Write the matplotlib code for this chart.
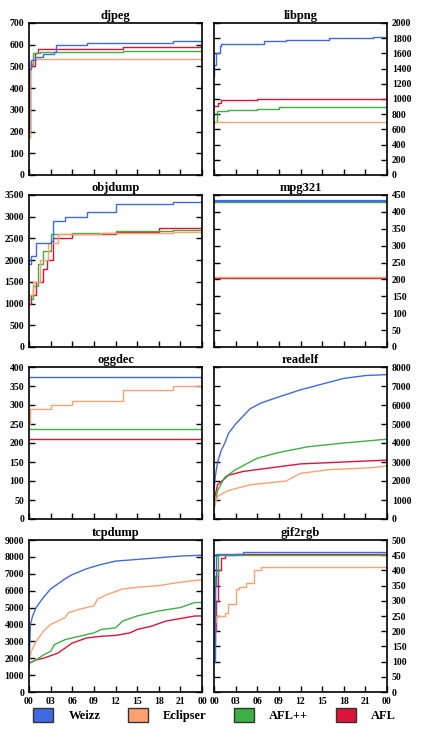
import matplotlib
matplotlib.use("Agg")
import matplotlib.pyplot as plt
from matplotlib.patches import Patch

plt.rcParams['font.family'] = ['Liberation Serif', 'DejaVu Serif']
plt.rcParams['font.weight'] = 'bold'

fuzzers = ["Weizz", "Eclipser", "AFL++", "AFL"]
colors = {"Weizz": "#4169E1", "Eclipser": "#FFA070", "AFL++": "#3CB043", "AFL": "#DC143C"}

titles = ["djpeg", "libpng", "objdump", "mpg321", "oggdec", "readelf", "tcpdump", "gif2rgb"]
ylims = [(0, 700, 100), (0, 2000, 200), (0, 3500, 500), (0, 450, 50),
         (0, 400, 50), (0, 8000, 1000), (0, 9000, 1000), (0, 500, 50)]

# (times in hours, values)
data = {
 "djpeg": {
  "Weizz": ([0, 0.05, 0.3, 0.8, 2, 3.5, 3.8, 8, 20, 24], [200, 490, 530, 545, 555, 565, 600, 610, 615, 615]),
  "Eclipser": ([0, 0.1, 0.5, 1, 24], [170, 520, 530, 535, 535]),
  "AFL++": ([0, 0.1, 0.6, 1.5, 13, 24], [180, 510, 560, 568, 570, 570]),
  "AFL": ([0, 0.1, 0.8, 1.3, 13, 24], [200, 500, 560, 580, 588, 588]),
 },
 "libpng": {
  "Weizz": ([0, 0.05, 0.3, 0.8, 1, 6, 7, 10, 16, 22, 24], [1300, 1450, 1600, 1700, 1720, 1730, 1760, 1780, 1800, 1810, 1810]),
  "Eclipser": ([0, 24], [700, 700]),
  "AFL++": ([0, 0.4, 2, 6, 9, 24], [700, 840, 850, 870, 900, 900]),
  "AFL": ([0, 0.5, 1, 6, 24], [910, 950, 985, 995, 995]),
 },
 "objdump": {
  "Weizz": ([0, 0.3, 1, 3, 3.3, 5, 8, 12, 20, 24], [1900, 2100, 2400, 2450, 2900, 3000, 3100, 3300, 3350, 3350]),
  "Eclipser": ([0, 0.5, 1.5, 2.7, 4, 10, 20, 24], [1200, 1500, 2000, 2400, 2600, 2620, 2650, 2650]),
  "AFL++": ([0, 0.5, 1.3, 2, 3, 6, 12, 20, 24], [1100, 1400, 1900, 2200, 2600, 2630, 2680, 2700, 2700]),
  "AFL": ([0, 0.3, 1, 2, 2.5, 3.3, 6, 12, 18, 24], [1000, 1200, 1500, 1800, 2000, 2500, 2600, 2650, 2750, 2800]),
 },
 "mpg321": {
  "Weizz": ([0, 24], [432, 432]),
  "Eclipser": ([0, 24], [206, 206]),
  "AFL++": ([0, 24], [430, 430]),
  "AFL": ([0, 24], [205, 205]),
 },
 "oggdec": {
  "Weizz": ([0, 24], [375, 375]),
  "Eclipser": ([0, 0.2, 3, 6, 13, 20, 24], [250, 290, 300, 310, 340, 350, 350]),
  "AFL++": ([0, 24], [237, 237]),
  "AFL": ([0, 24], [210, 210]),
 },
 "readelf": {
  "Weizz": ([0, 0.2, 0.5, 1, 1.5, 2, 3, 4, 5, 6.5, 8, 10, 12, 15, 18, 21, 24], [1500, 2300, 3000, 3600, 4000, 4500, 5000, 5400, 5800, 6100, 6300, 6550, 6800, 7100, 7400, 7550, 7600]),
  "Eclipser": ([0, 0.5, 2, 5, 10, 12, 16, 22, 24], [600, 1200, 1500, 1800, 2000, 2400, 2600, 2700, 2800]),
  "AFL++": ([0, 0.5, 1.5, 3, 6, 9, 13, 18, 24], [500, 1500, 2200, 2600, 3200, 3500, 3800, 4000, 4200]),
  "AFL": ([0, 0.5, 2, 4, 8, 12, 18, 24], [1000, 1800, 2300, 2500, 2700, 2900, 3000, 3100]),
 },
 "tcpdump": {
  "Weizz": ([0, 0.2, 0.5, 1, 1.5, 2, 3, 4, 5, 6, 8, 10, 12, 15, 18, 21, 24], [1500, 4000, 4500, 5000, 5300, 5600, 6100, 6400, 6700, 6950, 7300, 7550, 7750, 7850, 7950, 8050, 8100]),
  "Eclipser": ([0, 0.3, 1, 2, 3, 4, 5, 5.5, 7, 9, 9.5, 11, 13, 15, 18, 21, 24], [1800, 2400, 3000, 3600, 4000, 4200, 4400, 4700, 4900, 5100, 5500, 5800, 6100, 6200, 6300, 6500, 6650]),
  "AFL++": ([0, 1, 2, 3, 3.5, 5, 7, 9, 10, 12, 13, 15, 18, 21, 23, 24], [1700, 1900, 2200, 2400, 2800, 3100, 3300, 3500, 3700, 3800, 4200, 4500, 4800, 5000, 5300, 5300]),
  "AFL": ([0, 1, 2, 4, 5, 6, 8, 10, 12, 14, 15, 17, 19, 21, 23, 24], [1700, 1900, 2000, 2300, 2600, 2900, 3200, 3300, 3350, 3500, 3700, 3900, 4200, 4350, 4500, 4500]),
 },
 "gif2rgb": {
  "Weizz": ([0, 0.1, 0.3, 4, 24], [100, 350, 455, 460, 460]),
  "Eclipser": ([0, 0.1, 0.3, 1.5, 2, 3, 3.5, 4.5, 5.5, 6.5, 19, 24], [165, 230, 250, 260, 290, 340, 345, 360, 400, 410, 412, 412]),
  "AFL++": ([0, 0.2, 0.5, 24], [150, 380, 452, 455]),
  "AFL": ([0, 0.3, 0.5, 1, 1.5, 3, 24], [200, 300, 400, 440, 450, 455, 455]),
 },
}
smooth = {"readelf", "tcpdump"}

W, H = 429, 737
fig = plt.figure(figsize=(W/100, H/100), dpi=100)
lefts = [29, 214]
aw = 173
tops = [23, 195, 367, 540]
ah = 152
xt = list(range(0, 25, 3))
xl = ["%02d" % (t % 24) for t in xt]

for i, name in enumerate(titles):
    r, c = divmod(i, 2)
    ax = fig.add_axes([lefts[c]/W, 1-(tops[r]+ah)/H, aw/W, ah/H])
    order = ["AFL", "AFL++", "Eclipser", "Weizz"]
    for f in order:
        t, v = data[name][f]
        lw = 1.6 if (name == "mpg321" and f == "Weizz") else 1.0
        ax.plot(t, v, drawstyle='default' if name in smooth else 'steps-post',
                color=colors[f], lw=lw)
    lo, hi, st = ylims[i]
    ax.set_ylim(lo, hi)
    ax.set_yticks(range(lo, hi+1, st))
    ax.set_xlim(0, 24)
    ax.set_xticks(xt)
    ax.tick_params(direction='in', top=False, right=True, left=True, length=4, labelsize=7, width=1)
    if c == 1:
        ax.tick_params(labelleft=False, labelright=True)
    if r == 3:
        ax.set_xticklabels(xl)
    else:
        ax.set_xticklabels([])
    for s in ax.spines.values():
        s.set_linewidth(1.2)
    ax.set_title(name, fontsize=9, fontweight='bold', pad=3)

handles = [Patch(facecolor=colors[f], edgecolor='#333333', label=f) for f in fuzzers]
fig.legend(handles=handles, loc='center', bbox_to_anchor=(0.5, 1-715/H), ncol=4, frameon=False,
           fontsize=9, handlelength=1.6, handleheight=1.4, columnspacing=2.2, handletextpad=1.2)
fig.savefig("out.png", dpi=100)
